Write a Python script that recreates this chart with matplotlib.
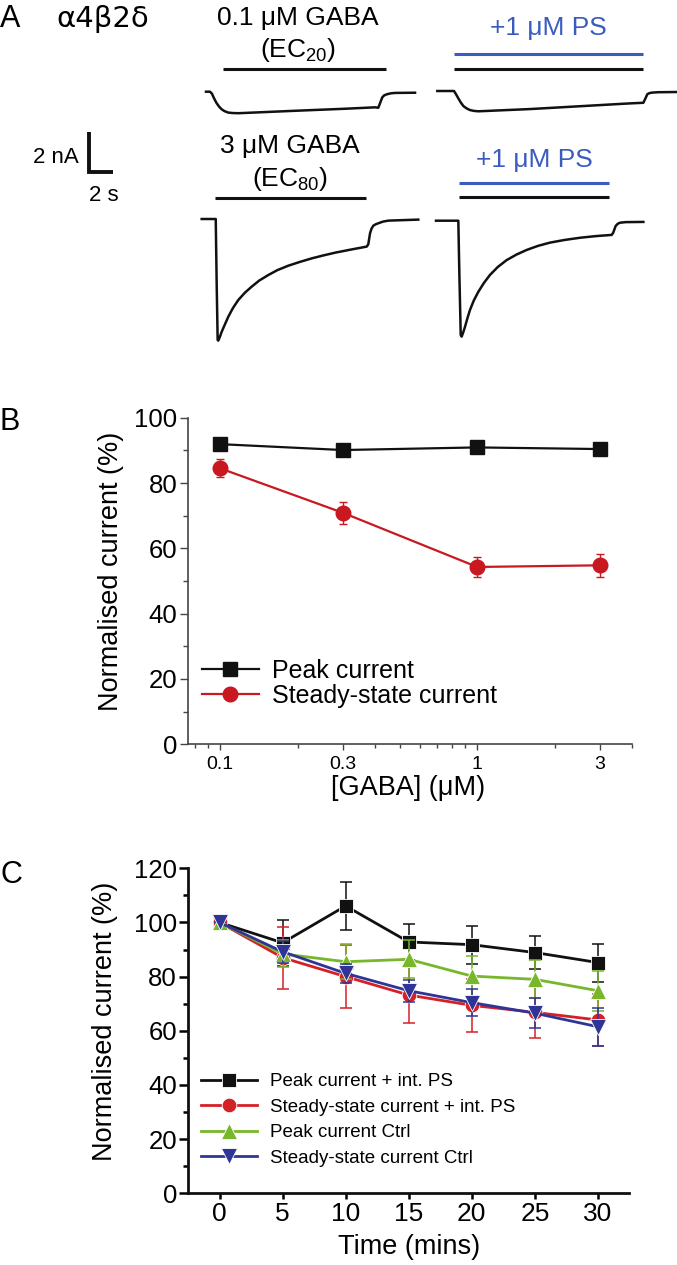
import matplotlib
matplotlib.use('Agg')
import matplotlib.pyplot as plt
from matplotlib.ticker import FixedLocator, MultipleLocator, NullFormatter

plt.rcParams['font.family'] = ['Liberation Sans', 'DejaVu Sans']
plt.rcParams['mathtext.fontset'] = 'custom'
plt.rcParams['mathtext.rm'] = 'Liberation Sans'
plt.rcParams['mathtext.it'] = 'Liberation Sans:italic'

W, H = 677, 1265

# ---------------- panel A: example traces (time in s, current in nA) ----------------
tl_t = [0, 0.33, 0.5, 0.61, 0.75, 0.89, 1.1, 1.31, 1.55, 1.86, 2.2, 2.69, 7.42, 11.58, 14.08, 14.36,
        14.5, 14.69, 14.85, 15.06, 15.4, 15.75, 17.42]
tl_i = [0, 0, -0.1, -0.25, -0.42, -0.57, -0.74, -0.87, -0.96, -1.03, -1.05, -1.06, -0.94, -0.84, -0.77,
        -0.79, -0.57, -0.28, -0.18, -0.13, -0.08, -0.06, -0.05]

tr_t = [0, 1.39, 1.55, 1.75, 1.95, 2.17, 2.45, 2.73, 3.05, 3.42, 7.72, 11.89, 16.06, 17.17, 17.31,
        17.5, 17.65, 17.87, 18.4, 19.95]
tr_i = [0, 0, -0.15, -0.36, -0.56, -0.74, -0.86, -0.94, -0.98, -1.0, -0.89, -0.75, -0.61, -0.58, -0.41,
        -0.16, -0.11, -0.08, -0.06, -0.05]

bl_t = [0, 1.17, 1.25, 1.33, 1.38, 1.5, 1.67, 1.95, 2.22, 2.6, 3.05, 3.6, 4.17, 4.8, 5.55, 6.3, 7.22,
        8.2, 9.17, 10.1, 11.11, 12.4, 13.75, 13.88, 14.03, 14.15, 14.3, 14.5, 14.72, 15.1, 15.55, 18.05]
bl_i = [0, 0, -3.25, -5.96, -5.99, -5.83, -5.55, -5.17, -4.81, -4.39, -3.99, -3.63, -3.33, -3.03, -2.76,
        -2.52, -2.30, -2.11, -1.94, -1.80, -1.66, -1.51, -1.36, -1.25, -0.70, -0.48, -0.33, -0.26, -0.21,
        -0.13, -0.08, -0.03]

br_t = [0, 1.86, 1.94, 2.06, 2.14, 2.28, 2.42, 2.62, 2.83, 3.15, 3.53, 4.0, 4.5, 5.15, 5.89, 6.7, 7.56,
        8.5, 9.5, 10.7, 12.0, 13.3, 14.64, 14.77, 14.97, 15.15, 15.33, 15.8, 17.28]
br_i = [0, 0, -2.43, -5.63, -5.71, -5.48, -5.22, -4.80, -4.40, -3.93, -3.50, -3.06, -2.67, -2.28, -1.94,
        -1.67, -1.44, -1.24, -1.08, -0.95, -0.84, -0.76, -0.70, -0.59, -0.26, -0.15, -0.10, -0.07, -0.06]

# drug application bars (start, end in s from trace start)
gaba_bar_low = (1.39, 15.0)
ps_bar_low = (1.42, 17.1)
gaba_bar_high = (1.11, 13.67)
ps_bar_high = (1.94, 14.42)

# ---------------- panel B ----------------
gaba_conc = [0.1, 0.3, 1, 3]
gaba_ticklabels = ['0.1', '0.3', '1', '3']
peak_b = [91.9, 90.1, 90.9, 90.4]
peak_b_err = [1.0, 1.6, 0.9, 1.0]
steady_b = [84.5, 70.9, 54.3, 54.8]
steady_b_err = [2.8, 3.4, 3.2, 3.6]

# ---------------- panel C ----------------
time_min = [0, 5, 10, 15, 20, 25, 30]
peak_ps = [100, 92.5, 106.1, 92.8, 91.8, 88.9, 85.2]
peak_ps_err = [0, 8.5, 9.0, 6.5, 7.0, 6.0, 7.0]
steady_ps = [100, 87.0, 80.0, 73.2, 69.4, 66.8, 64.0]
steady_ps_err = [0, 11.5, 11.6, 10.2, 9.7, 9.4, 9.5]
peak_ctrl = [100, 88.4, 85.5, 86.4, 80.2, 79.0, 74.8]
peak_ctrl_err = [0, 5.0, 6.5, 7.0, 7.5, 7.0, 7.4]
steady_ctrl = [100, 89.2, 81.2, 74.8, 70.4, 66.5, 61.5]
steady_ctrl_err = [0, 4.0, 3.5, 4.0, 5.0, 5.5, 7.0]

BLACK = '#111111'
RED_B = '#c81820'
RED = '#d42027'
GREEN = '#78b72b'
BLUE = '#2f3596'
PS_BLUE = '#3b5cbf'

PX_PER_S = 12.0
PX_PER_NA = 20.3


def rect(left, top, right, bottom):
    return [left / W, 1 - bottom / H, (right - left) / W, (bottom - top) / H]


fig = plt.figure(figsize=(W / 100, H / 100), dpi=100)

# full-figure canvas in pixel units for panel A and the panel letters
cv = fig.add_axes([0, 0, 1, 1])
cv.set_xlim(0, W)
cv.set_ylim(H, 0)
cv.axis('off')


def trace(x0, y0, t, i):
    cv.plot([x0 + a * PX_PER_S for a in t], [y0 - b * PX_PER_NA for b in i],
            color=BLACK, lw=1.8, solid_joinstyle='round')


def bar(x0, span, y, color):
    cv.plot([x0 + span[0] * PX_PER_S, x0 + span[1] * PX_PER_S], [y, y],
            color=color, lw=2.2, solid_capstyle='butt')


trace(206, 91.7, tl_t, tl_i)
trace(437.3, 91.0, tr_t, tr_i)
trace(201.7, 219.0, bl_t, bl_i)
trace(436, 220.7, br_t, br_i)

bar(206, gaba_bar_low, 69, BLACK)
bar(437.3, ps_bar_low, 69, BLACK)
bar(437.3, ps_bar_low, 54, PS_BLUE)
bar(201.7, gaba_bar_high, 197.5, BLACK)
bar(436, ps_bar_high, 197.3, BLACK)
bar(436, ps_bar_high, 182.7, PS_BLUE)

# scale bar: 2 nA / 2 s
cv.plot([89.3, 89.3, 89.3 + 2 * PX_PER_S], [172.3 - 2 * PX_PER_NA, 172.3, 172.3],
        color=BLACK, lw=2.8, solid_capstyle='butt', solid_joinstyle='miter')
cv.text(79, 162.7, '2 nA', fontsize=16, ha='right', va='baseline')
cv.text(89, 201, '2 s', fontsize=16, ha='left', va='baseline')

cv.text(298, 24.5, '0.1 μM GABA', fontsize=19, ha='center', va='baseline')
cv.text(298, 57, r'(EC$_{\mathrm{20}}$)', fontsize=19, ha='center', va='baseline')
cv.text(290, 153.3, '3 μM GABA', fontsize=19, ha='center', va='baseline')
cv.text(290, 186, r'(EC$_{\mathrm{80}}$)', fontsize=19, ha='center', va='baseline')
cv.text(548, 35, '+1 μM PS', fontsize=19, ha='center', va='baseline', color=PS_BLUE)
cv.text(534, 166.7, '+1 μM PS', fontsize=19, ha='center', va='baseline', color=PS_BLUE)

cv.text(0, 26.7, 'A', fontsize=22, ha='left', va='baseline')
cv.text(56, 26.7, 'α4β2δ', fontsize=21, ha='left', va='baseline', family='DejaVu Sans')
cv.text(0, 430, 'B', fontsize=22, ha='left', va='baseline')
cv.text(0, 883, 'C', fontsize=22, ha='left', va='baseline')

# ---------------- panel B ----------------
axB = fig.add_axes(rect(188, 417.7, 632, 744.3))
axB.patch.set_alpha(0)
axB.errorbar(gaba_conc, steady_b, yerr=steady_b_err, fmt='none', ecolor=RED_B,
             elinewidth=1.0, capsize=3, capthick=1.0, zorder=3)
axB.errorbar(gaba_conc, peak_b, yerr=peak_b_err, fmt='none', ecolor=BLACK,
             elinewidth=1.0, capsize=3, capthick=1.0, zorder=3)
axB.plot(gaba_conc, peak_b, color=BLACK, lw=1.6, marker='s', ms=10, zorder=4,
         label='Peak current')
axB.plot(gaba_conc, steady_b, color=RED_B, lw=1.6, marker='o', ms=10.5, zorder=4,
         label='Steady-state current')
axB.set_xscale('log')
axB.set_xlim(0.075, 4.0)
axB.set_ylim(0, 100)
axB.xaxis.set_major_locator(FixedLocator(gaba_conc))
axB.set_xticklabels(gaba_ticklabels)
minor_b = [0.08, 0.09, 0.2, 0.4, 0.5, 0.6, 0.7, 0.8, 0.9, 2, 4]
axB.xaxis.set_minor_locator(FixedLocator(minor_b))
axB.xaxis.set_minor_formatter(NullFormatter())
axB.yaxis.set_major_locator(MultipleLocator(20))
axB.yaxis.set_minor_locator(MultipleLocator(10))
for s in ['top', 'right']:
    axB.spines[s].set_visible(False)
for s in ['left', 'bottom']:
    axB.spines[s].set_linewidth(1.2)
    axB.spines[s].set_color('#444444')
axB.tick_params(axis='x', which='major', length=4, width=1.0, color='#444444', labelsize=14, pad=4.5)
axB.tick_params(axis='x', which='minor', length=3, width=1.0, color='#444444')
axB.tick_params(axis='y', which='major', length=6, width=1.0, color='#444444', labelsize=18.5, pad=1.5)
axB.tick_params(axis='y', which='minor', length=3.5, width=1.0, color='#444444')
axB.set_ylabel('Normalised current (%)', fontsize=19.5)
axB.yaxis.set_label_coords((124 - 188) / 444, 0.529)
axB.set_xlabel('[GABA] (μM)', fontsize=19.5)
axB.xaxis.set_label_coords(0.495, (744.3 - 775) / 326.6)
axB.legend(loc='center left', bbox_to_anchor=(201.7 / W, 1 - 683.3 / H),
           bbox_transform=fig.transFigure, frameon=False, fontsize=18,
           handlelength=2.3, handletextpad=0.5, labelspacing=0.05,
           borderpad=0, borderaxespad=0)

# ---------------- panel C ----------------
axC = fig.add_axes(rect(188, 868.3, 629.4, 1193.3))
axC.patch.set_alpha(0)
series = [
    (peak_ps, peak_ps_err, BLACK, 's', 10, 'Peak current + int. PS'),
    (steady_ps, steady_ps_err, RED, 'o', 10.5, 'Steady-state current + int. PS'),
    (peak_ctrl, peak_ctrl_err, GREEN, '^', 11.5, 'Peak current Ctrl'),
    (steady_ctrl, steady_ctrl_err, BLUE, 'v', 11.5, 'Steady-state current Ctrl'),
]
for k, (vals, errs, col, mk, ms, lab) in enumerate(series):
    axC.errorbar(time_min, vals, yerr=errs, fmt='none', ecolor=col, elinewidth=1.1,
                 capsize=4, capthick=1.1, zorder=3 + 2 * k)
    axC.plot(time_min, vals, color=col, lw=2.0, marker=mk, ms=ms, mec='white', mew=0.6,
             zorder=4 + 2 * k, label=lab)
axC.set_xlim(-2.5, 32.5)
axC.set_ylim(0, 120)
axC.xaxis.set_major_locator(FixedLocator(time_min))
axC.yaxis.set_major_locator(MultipleLocator(20))
axC.yaxis.set_minor_locator(MultipleLocator(10))
for s in ['top', 'right']:
    axC.spines[s].set_visible(False)
for s in ['left', 'bottom']:
    axC.spines[s].set_linewidth(2.0)
    axC.spines[s].set_color(BLACK)
axC.tick_params(axis='x', which='major', length=4.5, width=1.8, labelsize=19, pad=2)
axC.tick_params(axis='y', which='major', length=6.5, width=1.8, labelsize=18.5, pad=1.5)
axC.tick_params(axis='y', which='minor', length=3.5, width=1.8)
axC.set_ylabel('Normalised current (%)', fontsize=19.5)
axC.yaxis.set_label_coords((118 - 188) / 441.4, 0.53)
axC.set_xlabel('Time (mins)', fontsize=19.5)
axC.xaxis.set_label_coords(0.5, (1193.3 - 1234) / 325)
axC.legend(loc='center left', bbox_to_anchor=(201 / W, 1 - 1120 / H),
           bbox_transform=fig.transFigure, frameon=False, fontsize=13.5,
           handlelength=3.0, handletextpad=0.7, labelspacing=0.45,
           borderpad=0, borderaxespad=0)

fig.savefig('out.png', dpi=100)
